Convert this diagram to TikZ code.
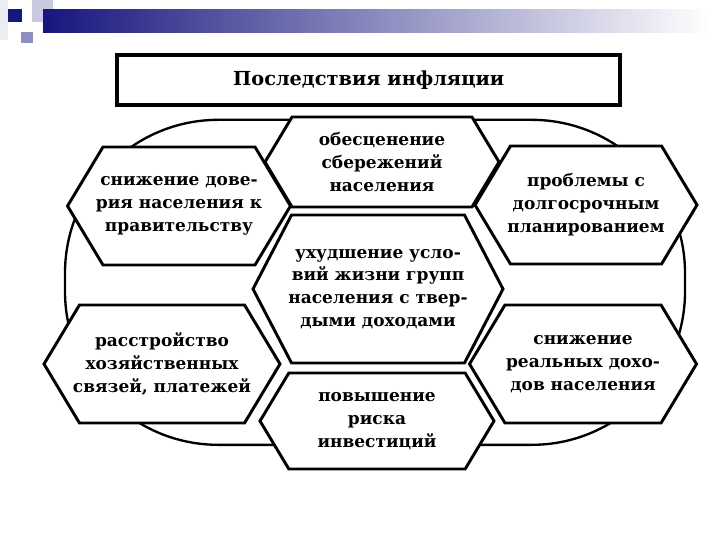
\documentclass[tikz,border=0pt]{standalone}
\usepackage{fontspec}
\setmainfont{DejaVu Serif}
\usetikzlibrary{shapes.symbols, positioning}
\definecolor{cnavy}{HTML}{16167E}
\definecolor{clav}{HTML}{C9C9E2}
\definecolor{cmid}{HTML}{8E8EC6}
\definecolor{cpale}{HTML}{ECECF4}
\tikzset{
  every picture/.style={line width=2pt},
  hexbox/.style={shape=signal, signal to=east and west, signal pointer angle=#1, draw=black, fill=white,
    line width=2.5pt, align=center, inner ysep=1pt, inner xsep=-6pt, font=\fontsize{14.5}{19.5}\selectfont\bfseries},
  hexbox/.default=118,
  titlebox/.style={draw=black, line width=3pt, fill=white, minimum width=15.09cm, minimum height=1.5cm,
    font=\fontsize{16.5}{20}\selectfont\bfseries},
  oval/.style={draw=black, line width=2pt, rounded corners=4.6cm, minimum width=18.6cm, minimum height=9.75cm},
}
\begin{document}
\begin{tikzpicture}
  \useasboundingbox (0,0) rectangle (21.6,16.2);
  % slide decoration
  \fill[cpale] (0,16.2) rectangle (0.24,15.0);
  \fill[clav] (0.96,16.2) rectangle (1.59,15.54);
  \shade[left color=cnavy, right color=white, shading angle=90] (1.29,15.9) rectangle (21.3,15.21);
  \fill[cnavy] (0.24,15.93) rectangle (0.66,15.54);
  \fill[cmid] (0.63,15.24) rectangle (0.99,14.91);
  % frame and title
  \node[oval] (frame) at (11.25,7.73) {};
  \node[titlebox] (title) at (11.06,13.8) {Последствия инфляции};
  % consequences
  \node[hexbox, minimum width=6.66cm, minimum height=3.54cm] (trust) at (5.37,10.02)
    {снижение дове-\\рия населения к\\правительству};
  \node[hexbox, minimum width=7.02cm, minimum height=2.7cm] (savings) at (11.46,11.34)
    {обесценение\\сбережений\\населения};
  \node[hexbox, minimum width=6.66cm, minimum height=3.54cm] (planning) at (17.58,10.05)
    {проблемы с\\долгосрочным\\планированием};
  \node[hexbox=125, minimum width=7.5cm, minimum height=4.44cm] (living) at (11.34,7.53)
    {ухудшение усло-\\вий жизни групп\\населения с твер-\\дыми доходами};
  \node[hexbox, minimum width=7.02cm, minimum height=2.88cm] (risk) at (11.31,3.57)
    {повышение\\риска\\инвестиций};
  \node[hexbox, minimum width=7.08cm, minimum height=3.54cm] (links) at (4.86,5.28)
    {расстройство\\хозяйственных\\связей, платежей};
  \node[hexbox, minimum width=6.81cm, minimum height=3.54cm] (income) at (17.49,5.28)
    {снижение\\реальных дохо-\\дов населения};
\end{tikzpicture}
\end{document}
